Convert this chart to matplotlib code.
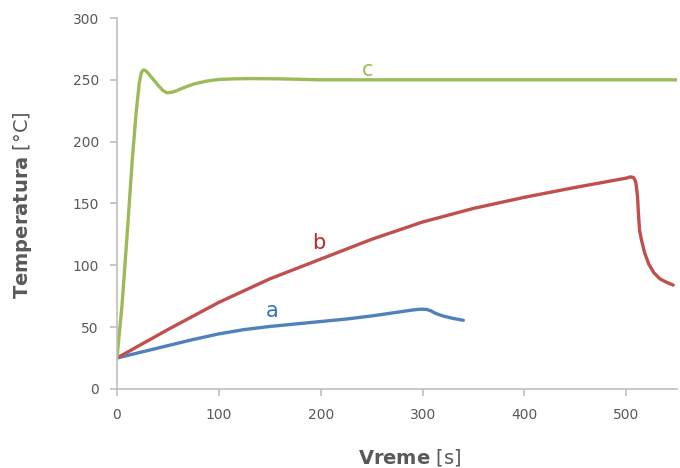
import matplotlib
matplotlib.use("Agg")
import matplotlib.pyplot as plt

# Temperature traces (time in s, temperature in °C)
a_time = [0, 25, 50, 75, 100, 125, 150, 175, 200, 225, 250, 275, 290, 298, 304, 308, 313, 320, 330, 340]
a_temp = [25, 30, 35, 40, 44.5, 48, 50.5, 52.5, 54.5, 56.5, 59, 62, 63.8, 64.5, 64.3, 63.2, 61, 59, 57, 55.5]

b_time = [0, 50, 100, 150, 200, 250, 300, 350, 400, 450, 500, 504, 507, 509, 510, 511, 512, 513, 515, 518, 522, 527, 533, 540, 546]
b_temp = [25, 48, 70, 89, 105, 121, 135, 146, 155, 163, 170.5, 171.5, 171, 168, 163, 155, 140, 128, 120, 110, 101, 94, 89, 86, 84]

c_time = [0, 5, 10, 15, 19, 22, 24, 26, 28, 31, 35, 40, 45, 49, 53, 58, 65, 75, 88, 100, 115, 130, 160, 200, 300, 400, 550]
c_temp = [25, 68, 125, 185, 225, 248, 256, 258, 257.5, 255, 251, 246, 241.5, 239.5, 239.8, 241, 243.5, 246.5, 249, 250.3, 250.8, 251, 250.8, 250, 250, 250, 250]

series_labels = ["a", "b", "c"]
label_pos = [(152, 63), (198, 118), (246, 258)]

x_ticks = [0, 100, 200, 300, 400, 500]
y_ticks = [0, 50, 100, 150, 200, 250, 300]

line_colors = ["#4F81BD", "#C0504D", "#9BBB59"]
text_colors = ["#2E75C5", "#C0272D", "#9BBB59"]

plt.rcParams["font.family"] = ["DejaVu Sans"]
plt.rcParams["mathtext.fontset"] = "dejavusans"

fig = plt.figure(figsize=(6.8, 4.68), dpi=100)
ax = fig.add_axes([0.172, 0.169, 0.824, 0.7925])

for t, v, col in zip([a_time, b_time, c_time], [a_temp, b_temp, c_temp], line_colors):
    ax.plot(t, v, color=col, linewidth=2.4, solid_capstyle="round", solid_joinstyle="round")

for lab, (px, py), col in zip(series_labels, label_pos, text_colors):
    ax.text(px, py, lab, color=col, fontsize=15, ha="center", va="center")

ax.set_xlim(0, 550)
ax.set_ylim(0, 300)
ax.set_xticks(x_ticks)
ax.set_yticks(y_ticks)

grey = "#595959"
for side in ["top", "right"]:
    ax.spines[side].set_visible(False)
for side in ["left", "bottom"]:
    ax.spines[side].set_color("#BFBFBF")
    ax.spines[side].set_linewidth(1.2)
ax.tick_params(axis="both", colors="#BFBFBF", labelcolor=grey, labelsize=10, length=5, width=1.2)
ax.tick_params(axis="x", pad=9)
ax.tick_params(axis="y", pad=8)

fig.text(410 / 680, 1 - 457 / 468, r"$\bf{Vreme}$ [s]", fontsize=14, color=grey,
         ha="center", va="center")
fig.text(22 / 680, 1 - 205 / 468, r"$\bf{Temperatura}$ [°C]", fontsize=14, color=grey,
         ha="center", va="center", rotation=90)

fig.savefig("out.png", dpi=100)
